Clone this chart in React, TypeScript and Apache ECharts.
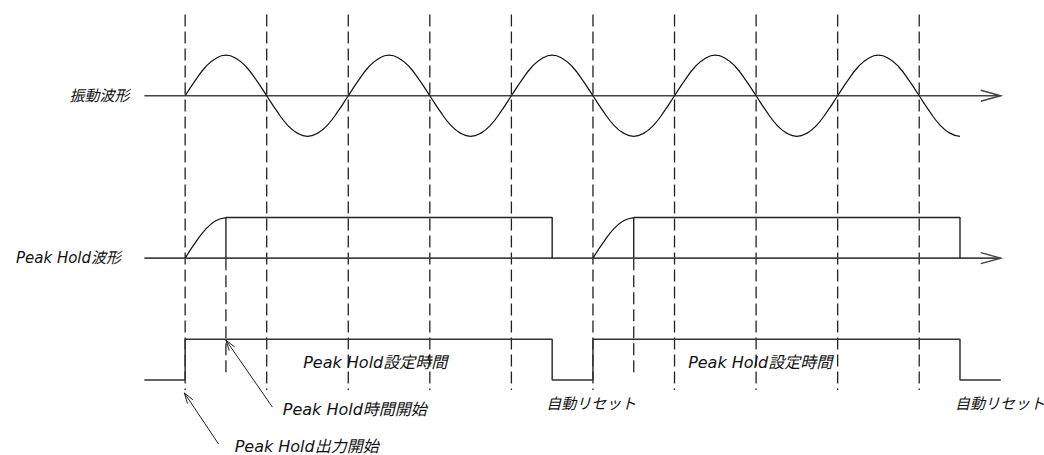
import React, { useEffect, useRef } from "react";
import * as echarts from "echarts";

// ---- data (time in grid units, level in amplitude units) ----
const gridTimes = [0, 1, 2, 3, 4, 5, 6, 7, 8, 9];
const gridSpan = [9.0, -0.25];
const holdStartTimes = [0.5, 5.5];
const holdStartSolid = [4, 3];
const holdStartDashEnd = 0.17;

const vibTimes = [
  0, 0.125, 0.25, 0.375, 0.5, 0.625, 0.75, 0.875, 1, 1.125, 1.25, 1.375, 1.5, 1.625, 1.75, 1.875,
  2, 2.125, 2.25, 2.375, 2.5, 2.625, 2.75, 2.875, 3, 3.125, 3.25, 3.375, 3.5, 3.625, 3.75, 3.875,
  4, 4.125, 4.25, 4.375, 4.5, 4.625, 4.75, 4.875, 5, 5.125, 5.25, 5.375, 5.5, 5.625, 5.75, 5.875,
  6, 6.125, 6.25, 6.375, 6.5, 6.625, 6.75, 6.875, 7, 7.125, 7.25, 7.375, 7.5, 7.625, 7.75, 7.875,
  8, 8.125, 8.25, 8.375, 8.5, 8.625, 8.75, 8.875, 9, 9.125, 9.25, 9.375, 9.5,
];
const vibValues = [
  7, 7.38, 7.71, 7.92, 8, 7.92, 7.71, 7.38, 7, 6.62, 6.29, 6.08, 6, 6.08, 6.29, 6.62,
  7, 7.38, 7.71, 7.92, 8, 7.92, 7.71, 7.38, 7, 6.62, 6.29, 6.08, 6, 6.08, 6.29, 6.62,
  7, 7.38, 7.71, 7.92, 8, 7.92, 7.71, 7.38, 7, 6.62, 6.29, 6.08, 6, 6.08, 6.29, 6.62,
  7, 7.38, 7.71, 7.92, 8, 7.92, 7.71, 7.38, 7, 6.62, 6.29, 6.08, 6, 6.08, 6.29, 6.62,
  7, 7.38, 7.71, 7.92, 8, 7.92, 7.71, 7.38, 7, 6.62, 6.29, 6.08, 6,
];

const riseTimes1 = [0, 0.125, 0.25, 0.375, 0.5];
const riseTimes2 = [5, 5.125, 5.25, 5.375, 5.5];
const riseValues = [3, 3.38, 3.71, 3.92, 4];

const holdTimes1 = [0.5, 4.5, 4.5];
const holdTimes2 = [5.5, 9.5, 9.5];
const holdValues = [4, 4, 3];

const outTimes = [-0.5, 0, 0, 4.5, 4.5, 5, 5, 9.5, 9.5, 10];
const outValues = [0, 0, 1, 1, 0, 0, 1, 1, 0, 0];

const axisRows = [7, 3];
const axisStart = -0.5;
const axisEnd = 10;

const rowLabels = ["振動波形", "Peak Hold波形"];
const rowLabelTimes = [-1.05, -1.43];

const noteTexts = ["Peak Hold設定時間", "Peak Hold設定時間", "Peak Hold時間開始", "Peak Hold出力開始", "自動リセット", "自動リセット"];
const noteTimes = [2.33, 7.05, 2.08, 1.49, 4.98, 9.99];
const noteLevels = [0.42, 0.42, -0.74, -1.64, -0.6, -0.59];
const noteSizes = [16, 16, 16, 16, 15, 15];

const arrowTails = [[0.41, -1.58], [1.07, -0.67]];
const arrowTips = [[-0.01, -0.32], [0.5, 0.98]];

const X_MIN = -2.27, X_MAX = 10.53, Y_MIN = -1.85, Y_MAX = 9.36;

const FONT = "'DejaVu Sans', 'Noto Sans CJK JP', sans-serif";
const pairs = (t: number[], v: number[]) => t.map((x, i) => [x, v[i]]);

export default function App() {
  const ref = useRef<HTMLDivElement>(null);
  useEffect(() => {
    if (!ref.current) return;
    const chart = echarts.init(ref.current, null, { renderer: "svg" });
    const lineSeries = (data: number[][], smooth: boolean, color: string, width: number) => ({
      type: "line",
      data,
      smooth,
      showSymbol: false,
      symbol: "none",
      silent: true,
      lineStyle: { color, width },
      z: 5,
    });
    const textItem = (api: any, text: string, size: number) => {
      const a = api.coord([api.value(0), api.value(1)]);
      return {
        type: "text",
        x: a[0],
        y: a[1],
        style: {
          text,
          fill: "#111",
          fontSize: size,
          fontFamily: FONT,
          fontStyle: "italic",
          align: "center",
          verticalAlign: "middle",
        },
      };
    };
    chart.setOption({
      animation: false,
      grid: { left: 0, right: 0, top: 0, bottom: 0 },
      xAxis: { type: "value", min: X_MIN, max: X_MAX, show: false },
      yAxis: { type: "value", min: Y_MIN, max: Y_MAX, show: false },
      series: [
        {
          type: "custom",
          silent: true,
          clip: false,
          data: gridTimes.map((t) => [t, gridSpan[0], gridSpan[1]]),
          encode: { x: 0, y: [1, 2] },
          renderItem: (_p: any, api: any) => {
            const a = api.coord([api.value(0), api.value(1)]);
            const b = api.coord([api.value(0), api.value(2)]);
            return {
              type: "line",
              shape: { x1: a[0], y1: a[1], x2: b[0], y2: b[1] },
              style: { stroke: "#222", lineWidth: 1.3, lineDash: [12, 5] },
            };
          },
        },
        {
          type: "custom",
          silent: true,
          clip: false,
          data: holdStartTimes.map((t) => [t, holdStartSolid[0], holdStartSolid[1], holdStartDashEnd]),
          encode: { x: 0, y: [1, 2, 3] },
          renderItem: (_p: any, api: any) => {
            const a = api.coord([api.value(0), api.value(1)]);
            const b = api.coord([api.value(0), api.value(2)]);
            const c = api.coord([api.value(0), api.value(3)]);
            return {
              type: "group",
              children: [
                { type: "line", shape: { x1: a[0], y1: a[1], x2: b[0], y2: b[1] }, style: { stroke: "#111", lineWidth: 1.3 } },
                { type: "line", shape: { x1: b[0], y1: b[1], x2: c[0], y2: c[1] }, style: { stroke: "#222", lineWidth: 1.3, lineDash: [12, 5] } },
              ],
            };
          },
        },
        {
          type: "custom",
          silent: true,
          clip: false,
          data: axisRows.map((v) => [axisStart, v, axisEnd]),
          encode: { x: [0, 2], y: 1 },
          renderItem: (_p: any, api: any) => {
            const a = api.coord([api.value(0), api.value(1)]);
            const b = api.coord([api.value(2), api.value(1)]);
            return {
              type: "group",
              children: [
                { type: "line", shape: { x1: a[0], y1: a[1], x2: b[0], y2: b[1] }, style: { stroke: "#444", lineWidth: 1.6 } },
                {
                  type: "polyline",
                  shape: { points: [[b[0] - 20, b[1] - 5.5], [b[0], b[1]], [b[0] - 20, b[1] + 5.5]] },
                  style: { stroke: "#444", lineWidth: 1.4, fill: "none" },
                },
              ],
            };
          },
        },
        lineSeries(pairs(vibTimes, vibValues), true, "#111", 1.2),
        lineSeries(pairs(riseTimes1, riseValues), true, "#111", 1.2),
        lineSeries(pairs(riseTimes2, riseValues), true, "#111", 1.2),
        lineSeries(pairs(holdTimes1, holdValues), false, "#222", 1.4),
        lineSeries(pairs(holdTimes2, holdValues), false, "#222", 1.4),
        lineSeries(pairs(outTimes, outValues), false, "#333", 1.5),
        {
          type: "custom",
          silent: true,
          clip: false,
          data: arrowTails.map((tl, i) => [tl[0], tl[1], arrowTips[i][0], arrowTips[i][1]]),
          encode: { x: [0, 2], y: [1, 3] },
          renderItem: (_p: any, api: any) => {
            const a = api.coord([api.value(0), api.value(1)]);
            const b = api.coord([api.value(2), api.value(3)]);
            const ang = Math.atan2(a[1] - b[1], a[0] - b[0]);
            const L = 11, s = 0.3;
            const w1 = [b[0] + L * Math.cos(ang + s), b[1] + L * Math.sin(ang + s)];
            const w2 = [b[0] + L * Math.cos(ang - s), b[1] + L * Math.sin(ang - s)];
            return {
              type: "group",
              children: [
                { type: "line", shape: { x1: a[0], y1: a[1], x2: b[0], y2: b[1] }, style: { stroke: "#222", lineWidth: 1 } },
                { type: "polyline", shape: { points: [w1, b, w2] }, style: { stroke: "#222", lineWidth: 1, fill: "none" } },
              ],
            };
          },
        },
        {
          type: "custom",
          silent: true,
          clip: false,
          data: rowLabels.map((_, i) => [rowLabelTimes[i], axisRows[i], i]),
          renderItem: (_p: any, api: any) => textItem(api, rowLabels[api.value(2)], 15),
        },
        {
          type: "custom",
          silent: true,
          clip: false,
          data: noteTexts.map((_, i) => [noteTimes[i], noteLevels[i], i]),
          renderItem: (_p: any, api: any) => textItem(api, noteTexts[api.value(2)], noteSizes[api.value(2)]),
        },
      ],
    });
    return () => chart.dispose();
  }, []);
  return (
    <div
      ref={ref}
      style={{ position: "absolute", left: 0, top: 0, width: 1044, height: 455, background: "#fff" }}
    />
  );
}
